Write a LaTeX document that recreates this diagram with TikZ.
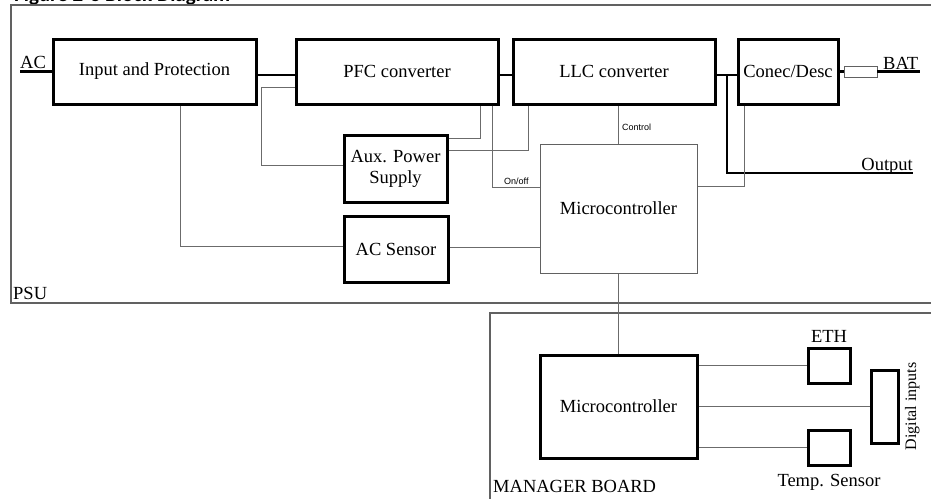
\documentclass[tikz,border=0pt]{standalone}
\usepackage{fontspec}
\setmainfont{Liberation Serif}
\newfontfamily\labfont{Liberation Sans}
\newfontfamily\capfont{Carlito}
\begin{document}
\begin{tikzpicture}[x=1pt,y=-1pt,
  tbox/.style={draw=black,line width=3pt,rectangle,inner sep=0pt,font=\fontsize{18.5}{21}\selectfont,align=center},
  sbox/.style={draw=black,line width=3pt,rectangle,inner sep=0pt},
  mbox/.style={draw=black!62,line width=1pt,rectangle,inner sep=0pt,font=\fontsize{18.5}{21}\selectfont},
  thk/.style={draw=black,line width=2.5pt},
  thn/.style={draw=black!58,line width=1pt},
  frm/.style={draw=black!62,line width=1.2pt},
  txt/.style={inner sep=0pt,font=\fontsize{18.5}{21}\selectfont},
  lab/.style={inner sep=0pt,font=\labfont\fontsize{9}{10}\selectfont},
]
\useasboundingbox (0,0) rectangle (931,498);
\clip (0,0) rectangle (931,498);
\fill[white] (0,0) rectangle (931,498);

% header (cut off at the top, as in the reference)
\node[anchor=base west,inner sep=0pt,font=\capfont\bfseries\fontsize{21}{24}\selectfont] (hdr) at (14,1) {Figure 2-3 Block Diagram};

% frames
\draw[frm] (11,5) rectangle (940,303);
\draw[frm] (490,313) rectangle (940,503);
\node[txt,anchor=base west] (psu) at (13,299) {PSU};
\node[txt,anchor=base west] (mgr) at (493,492) {MANAGER BOARD};

% blocks
\node[tbox,minimum width=203,minimum height=65] (inp) at (154.5,71.5) {Input and Protection};
\node[tbox,minimum width=202,minimum height=65] (pfc) at (397,71.5) {PFC converter};
\node[tbox,minimum width=202,minimum height=65] (llc) at (614,71.5) {LLC converter};
\node[tbox,minimum width=100,minimum height=65] (cd) at (788,71.5) {Conec/Desc};
\node[tbox,minimum width=103,minimum height=67] (aux) at (395.5,168.5) {Aux. Power\\Supply};
\node[tbox,minimum width=104,minimum height=66] (acs) at (396,249) {AC Sensor};
\node[mbox,minimum width=157,minimum height=129] (mc1) at (618.5,208.5) {Microcontroller};
\node[tbox,minimum width=157,minimum height=103] (mc2) at (618.5,406.5) {Microcontroller};
\node[sbox,minimum width=42,minimum height=35] (eth) at (829,365.5) {};
\node[sbox,minimum width=42,minimum height=35] (tmp) at (829,447.5) {};
\node[sbox,minimum width=27,minimum height=73] (dig) at (884.5,406.5) {};
\node[draw=black!62,line width=0.8pt,rectangle,inner sep=0pt,minimum width=33,minimum height=11] (fuse) at (860.5,71.5) {};

% labels
\node[txt,anchor=base west] (aclab) at (20,68.5) {AC};
\node[txt,anchor=base west] (batlab) at (883,69) {BAT};
\node[txt,anchor=base east] (outlab) at (913,170) {Output};
\node[txt,anchor=base] (ethlab) at (829,342) {ETH};
\node[txt,anchor=base] (tmplab) at (829,486) {Temp. Sensor};
\node[inner sep=0pt,font=\fontsize{16}{18}\selectfont,rotate=90,anchor=base] (diglab) at (916,406.5) {Digital inputs};
\node[lab,anchor=base west] (ctrl) at (622,130) {Control};
\node[lab,anchor=base west] (onoff) at (504,184) {On/off};

% coordinates
\coordinate (acend) at (20,71.5);
\coordinate (batend) at (920,71.5);
\coordinate (j1) at (727,75);
\coordinate (outend) at (913,173);

% thick power path
\draw[thk] (acend) -- (inp.west);
\draw[thk] ([yshift=-3.5pt]inp.east) -- ([yshift=-3.5pt]pfc.west);
\draw[thk] ([yshift=-3.5pt]pfc.east) -- ([yshift=-3.5pt]llc.west);
\draw[thk] ([yshift=-3.5pt]llc.east) -- ([yshift=-3.5pt]cd.west);
\draw[thk] (j1) |- (outend);
\draw[thk] (cd.east) -- (fuse.west);
\draw[thk] (fuse.east) -- (batend);

% thin signal lines
\draw[thn] ([yshift=-15.5pt]pfc.west) -- ++(-33,0) |- ([yshift=3.5pt]aux.west);
\draw[thn] ([yshift=30.5pt]aux.east) -| ([xshift=83pt]pfc.south);
\draw[thn] ([yshift=18.5pt]aux.east) -| ([xshift=-86pt]llc.south);
\draw[thn] ([xshift=95pt]pfc.south) |- ([yshift=21.5pt]mc1.west);
\draw[thn] (mc1.north) -- (mc1.north |- llc.south);
\draw[thn] ([xshift=-44pt]cd.south) |- ([yshift=22.5pt]mc1.east);
\draw[thn] ([xshift=25.5pt]inp.south) |- ([yshift=3pt]acs.west);
\draw[thn] ([yshift=2pt]acs.east) -- ([yshift=2pt]acs.east -| mc1.west);
\draw[thn] (mc1.south) -- (mc2.north);
\draw[thn] (eth.west -| mc2.east) -- (eth.west);
\draw[thn] (mc2.east) -- (dig.west);
\draw[thn] (tmp.west -| mc2.east) -- (tmp.west);
\end{tikzpicture}
\end{document}
